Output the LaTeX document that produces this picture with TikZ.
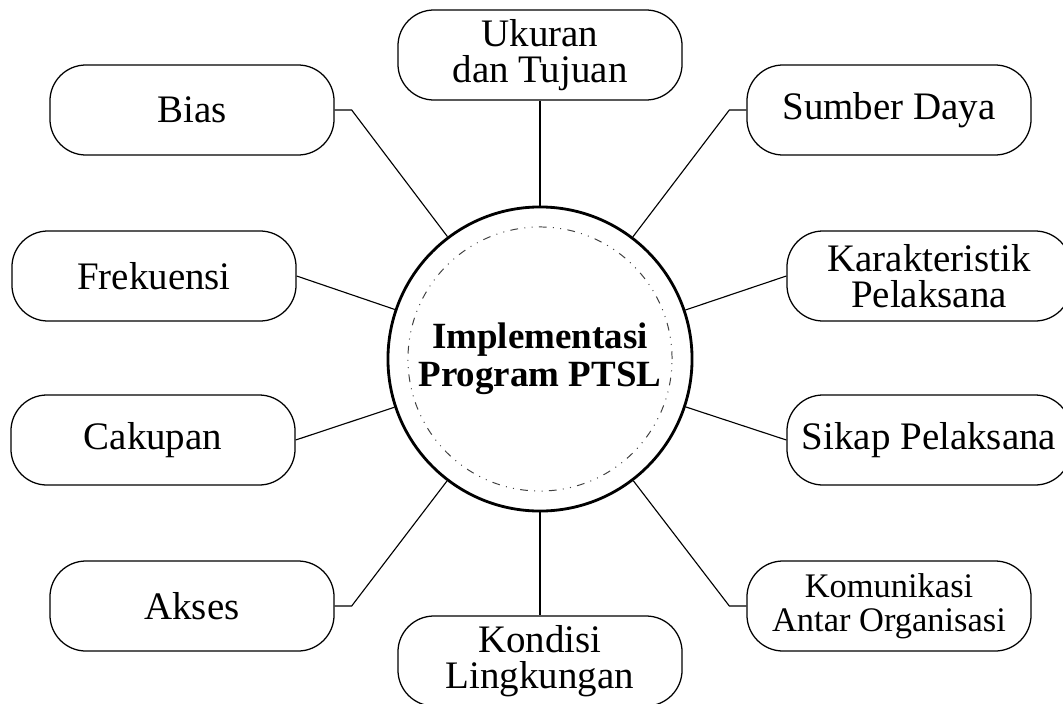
\documentclass[tikz,border=0pt]{standalone}
\usepackage{fontspec}
\setmainfont{Liberation Serif}
\usepackage{tikz}
\usetikzlibrary{positioning}

\begin{document}
\begin{tikzpicture}[x=0.025cm, y=-0.025cm,
	faktor/.style={rectangle, draw=black, line width=0.9pt, rounded corners=0.9cm, minimum width=7.1cm, minimum height=2.25cm, inner sep=0pt, align=center, font=\fontsize{27.7}{25.5}\selectfont},
	garis/.style={draw=black, line width=0.8pt}]
	\useasboundingbox (0,0) rectangle (1063,703);
	
	\node[circle, draw=black, line width=2pt, minimum size=7.6cm, inner sep=0pt, align=center, font=\bfseries\fontsize{26.3}{27}\selectfont] (pusat) at (540,359) {Implementasi\\Program PTSL};
	\draw[black!75, line width=0.7pt, dash pattern=on 5.5pt off 4.5pt on 0.7pt off 4.5pt on 0.7pt off 4.5pt] (pusat.center) circle (3.3cm);
	
	\node[faktor] (ukuran) at (540,55) {Ukuran\\dan Tujuan};
	\node[faktor] (bias) at (192,110) {Bias};
	\node[faktor] (sumber) at (889,110) {Sumber Daya};
	\node[faktor] (frekuensi) at (154,276) {Frekuensi};
	\node[faktor] (karakteristik) at (929,276) {Karakteristik\\Pelaksana};
	\node[faktor] (cakupan) at (153,440) {Cakupan};
	\node[faktor] (sikap) at (929,440) {Sikap Pelaksana};
	\node[faktor] (akses) at (192,606) {Akses};
	\node[faktor, font=\fontsize{24.5}{24}\selectfont] (komunikasi) at (889,606) {Komunikasi\\Antar Organisasi};
	\node[faktor, font=\fontsize{27.7}{26}\selectfont] (kondisi) at (540,661) {Kondisi\\Lingkungan};
	
	\draw[garis] (ukuran) -- (pusat);
	\draw[garis] (pusat) -- (kondisi);
	\draw[garis] (bias.east) -- ++(17,0) -- (pusat);
	\draw[garis] (sumber.west) -- ++(-17,0) -- (pusat);
	\draw[garis] (akses.east) -- ++(17,0) -- (pusat);
	\draw[garis] (komunikasi.west) -- ++(-17,0) -- (pusat);
	\draw[garis] (frekuensi.east) -- (pusat);
	\draw[garis] (karakteristik.west) -- (pusat);
	\draw[garis] (cakupan.east) -- (pusat);
	\draw[garis] (sikap.west) -- (pusat);
\end{tikzpicture}
\end{document}
